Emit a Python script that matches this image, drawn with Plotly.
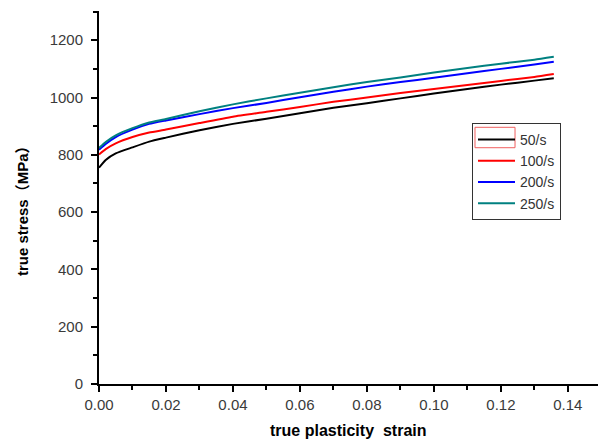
import plotly.graph_objects as go

strain = [0, 0.002, 0.005, 0.01, 0.015, 0.02, 0.03, 0.04, 0.05, 0.06, 0.07,
          0.08, 0.09, 0.10, 0.11, 0.12, 0.13, 0.1358]
stress_50 = [755, 782, 805, 826, 846, 860, 886, 908, 926, 945, 964,
             980, 997, 1014, 1030, 1045, 1059, 1067]
stress_100 = [801, 820, 840, 862, 878, 888, 911, 933, 950, 967, 985,
              1000, 1016, 1030, 1044, 1058, 1072, 1082]
stress_200 = [818, 838, 862, 888, 908, 920, 942, 963, 981, 1001, 1020,
              1038, 1054, 1069, 1085, 1100, 1115, 1125]
stress_250 = [824, 845, 868, 893, 913, 925, 952, 976, 997, 1017, 1036,
              1054, 1070, 1087, 1103, 1118, 1132, 1142]
series_names = ["50/s", "100/s", "200/s", "250/s"]
series_colors = ["#000000", "#FF0000", "#0000FF", "#008080"]
x_ticks = [0, 0.02, 0.04, 0.06, 0.08, 0.10, 0.12, 0.14]
y_ticks = [0, 200, 400, 600, 800, 1000, 1200]

fig = go.Figure()
for name, ys, col in zip(series_names, [stress_50, stress_100, stress_200, stress_250], series_colors):
    fig.add_trace(go.Scatter(x=strain, y=ys, mode="lines", name=name,
                             line=dict(color=col, width=2, shape="spline", smoothing=0.5)))

font_main = "Arial, Liberation Sans, sans-serif"
axis_common = dict(showline=True, linecolor="black", linewidth=2, ticks="outside",
                   tickwidth=2, tickcolor="black", ticklen=6, showgrid=False, zeroline=False,
                   tickfont=dict(family=font_main, size=15, color="#3a3a3a"),
                   mirror=False, automargin=False)

fig.update_xaxes(range=[0, 0.149], tickvals=x_ticks, tickformat=".2f",
                 minor=dict(dtick=0.01, tick0=0, ticks="outside", ticklen=4, tickwidth=2, tickcolor="black"),
                 **axis_common)
fig.update_yaxes(range=[0, 1302], tickvals=y_ticks, ticklabelstandoff=5,
                 minor=dict(dtick=100, tick0=0, ticks="outside", ticklen=4, tickwidth=2, tickcolor="black"),
                 **axis_common)

fig.update_layout(
    width=598, height=442,
    margin=dict(l=99, r=0, t=11, b=58, autoexpand=False),
    plot_bgcolor="white", paper_bgcolor="white",
    showlegend=True,
    legend=dict(x=0.7475, y=(384 - 123) / 373, xanchor="left", yanchor="top",
                bordercolor="#333333", borderwidth=1, bgcolor="rgba(0,0,0,0)",
                font=dict(family=font_main, size=14, color="#333333"),
                itemwidth=37, tracegroupgap=0),
    annotations=[
        dict(text="<b>true plasticity  strain</b>", xref="paper", yref="paper",
             x=0.5, y=-46 / 373, xanchor="center", yanchor="middle", showarrow=False,
             font=dict(family=font_main, size=16, color="black")),
        dict(text="<b>true stress（MPa）</b>", xref="paper", yref="paper",
             x=-77 / 499, y=(384 - 207) / 373, xanchor="center", yanchor="middle",
             showarrow=False, textangle=-90,
             font=dict(family="Arial, Liberation Sans, Noto Sans CJK SC, sans-serif", size=15, color="black")),
    ],
    shapes=[
        dict(type="rect", xref="paper", yref="paper",
             x0=0.7535, x1=0.8337, y0=0.6335, y1=0.6882,
             line=dict(color="#F06060", width=1)),
    ],
)

fig.write_html("out.html", config={"displayModeBar": False},
               post_script="document.body.style.margin='0';document.body.style.padding='0';")
